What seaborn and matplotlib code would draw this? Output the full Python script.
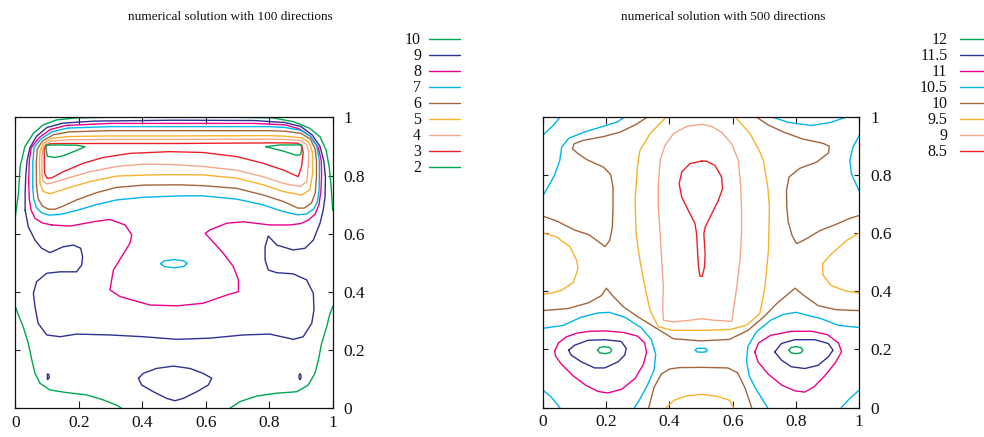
import matplotlib
matplotlib.use("Agg")
import matplotlib.pyplot as plt
from matplotlib.lines import Line2D
import seaborn as sns
import pandas as pd

# ---------------- data ----------------
TITLE_LEFT = "numerical solution with 100 directions"
TITLE_RIGHT = "numerical solution with 500 directions"
TICKS = [0.0, 0.2, 0.4, 0.6, 0.8, 1.0]
TICK_LABELS = ["0", "0.2", "0.4", "0.6", "0.8", "1"]

LEVELS_LEFT = ["10", "9", "8", "7", "6", "5", "4", "3", "2"]
LEVELS_RIGHT = ["12", "11.5", "11", "10.5", "10", "9.5", "9", "8.5"]

# colour of each contour level (same order in both keys)
LEVEL_COLORS = ["#00a651", "#2e3192", "#ec008c", "#00b4ec", "#a3653d",
                "#f8b12c", "#f7a688", "#ec2028", "#00a651"]

# ---- left panel (100 directions): traced contour lines (x, y) ----
left_10_top = [(0.0, 0.66), (0.004, 0.69), (0.01, 0.739), (0.015, 0.83), (0.03, 0.899),
               (0.057, 0.945), (0.088, 0.974), (0.13, 0.991), (0.193, 0.998), (0.30, 1.0),
               (0.5, 1.0), (0.70, 1.0), (0.812, 0.998), (0.876, 0.985), (0.928, 0.962),
               (0.96, 0.933), (0.979, 0.888), (0.989, 0.83), (0.995, 0.762), (1.0, 0.68)]
left_10_bot_l = [(0.0, 0.35), (0.01, 0.32), (0.025, 0.28), (0.041, 0.223), (0.052, 0.166),
                 (0.062, 0.12), (0.078, 0.086), (0.109, 0.063), (0.162, 0.054), (0.225, 0.046),
                 (0.277, 0.029), (0.319, 0.011), (0.335, 0.0)]
left_10_bot_r = [(1.0, 0.35), (0.99, 0.32), (0.981, 0.28), (0.965, 0.223), (0.955, 0.166),
                 (0.944, 0.12), (0.923, 0.08), (0.887, 0.057), (0.824, 0.052), (0.76, 0.042),
                 (0.708, 0.023), (0.676, 0.0)]
left_9_loop = [(0.031, 0.681), (0.031, 0.739), (0.033, 0.80), (0.037, 0.85), (0.046, 0.895),
               (0.067, 0.935), (0.10, 0.965), (0.15, 0.98), (0.25, 0.987), (0.5, 0.99),
               (0.75, 0.989), (0.85, 0.982), (0.90, 0.968), (0.935, 0.94), (0.96, 0.90),
               (0.972, 0.85), (0.977, 0.796), (0.976, 0.727), (0.970, 0.681), (0.960, 0.636),
               (0.939, 0.578), (0.913, 0.550), (0.876, 0.544), (0.824, 0.561), (0.797, 0.592),
               (0.787, 0.555), (0.787, 0.510), (0.797, 0.475), (0.824, 0.466), (0.876, 0.462),
               (0.918, 0.441), (0.939, 0.395), (0.941, 0.338), (0.934, 0.292), (0.907, 0.246),
               (0.876, 0.237), (0.802, 0.255), (0.718, 0.252), (0.613, 0.241), (0.509, 0.237),
               (0.403, 0.246), (0.298, 0.252), (0.193, 0.255), (0.141, 0.246), (0.099, 0.252),
               (0.072, 0.292), (0.062, 0.349), (0.057, 0.395), (0.067, 0.435), (0.099, 0.464),
               (0.141, 0.469), (0.193, 0.469), (0.209, 0.492), (0.212, 0.521), (0.206, 0.550),
               (0.183, 0.561), (0.151, 0.555), (0.109, 0.535), (0.083, 0.550), (0.062, 0.578),
               (0.041, 0.624), (0.031, 0.681)]
left_9_oval = [(0.388, 0.103), (0.403, 0.120), (0.445, 0.137), (0.498, 0.145), (0.550, 0.137),
               (0.592, 0.120), (0.619, 0.103), (0.608, 0.080), (0.572, 0.057), (0.529, 0.034),
               (0.503, 0.026), (0.477, 0.034), (0.435, 0.057), (0.398, 0.080), (0.388, 0.103)]
left_9_dot_l = [(0.101, 0.100), (0.101, 0.118), (0.105, 0.117), (0.107, 0.109),
                (0.105, 0.101), (0.101, 0.100)]
left_9_dot_r = [(0.897, 0.099), (0.894, 0.104), (0.894, 0.114), (0.897, 0.119),
                (0.900, 0.114), (0.900, 0.104), (0.897, 0.099)]
left_8_loop = [(0.115, 0.630), (0.085, 0.637), (0.063, 0.652), (0.05, 0.68), (0.044, 0.72),
               (0.042, 0.78), (0.044, 0.85), (0.05, 0.895), (0.075, 0.93), (0.11, 0.958),
               (0.16, 0.972), (0.3, 0.979), (0.5, 0.979), (0.75, 0.979), (0.85, 0.974),
               (0.895, 0.96), (0.93, 0.935), (0.955, 0.895), (0.964, 0.85), (0.965, 0.80),
               (0.963, 0.75), (0.957, 0.70), (0.945, 0.668), (0.925, 0.648), (0.90, 0.635),
               (0.865, 0.630), (0.802, 0.630), (0.718, 0.641), (0.666, 0.636), (0.613, 0.613),
               (0.598, 0.601), (0.613, 0.584), (0.655, 0.533), (0.687, 0.487), (0.703, 0.441),
               (0.703, 0.401), (0.666, 0.389), (0.592, 0.361), (0.509, 0.352), (0.424, 0.355),
               (0.330, 0.384), (0.298, 0.407), (0.309, 0.475), (0.335, 0.521), (0.361, 0.567),
               (0.367, 0.596), (0.346, 0.630), (0.298, 0.649), (0.246, 0.641), (0.172, 0.626),
               (0.115, 0.630)]
left_7_band = [(0.055, 0.76), (0.055, 0.843), (0.059, 0.895), (0.08, 0.925), (0.115, 0.950),
               (0.165, 0.963), (0.3, 0.968), (0.5, 0.968), (0.80, 0.968), (0.85, 0.965),
               (0.90, 0.955), (0.93, 0.935), (0.95, 0.90), (0.958, 0.85), (0.958, 0.80),
               (0.957, 0.75), (0.952, 0.71), (0.94, 0.685), (0.918, 0.668), (0.89, 0.665),
               (0.844, 0.676), (0.781, 0.699), (0.697, 0.719), (0.592, 0.730), (0.518, 0.730),
               (0.403, 0.725), (0.319, 0.716), (0.256, 0.70), (0.193, 0.68), (0.141, 0.666),
               (0.105, 0.664), (0.083, 0.672), (0.066, 0.69), (0.058, 0.72), (0.055, 0.76)]
left_7_island = [(0.458, 0.497), (0.47, 0.507), (0.50, 0.511), (0.53, 0.507), (0.542, 0.498),
                 (0.53, 0.487), (0.50, 0.483), (0.47, 0.487), (0.458, 0.497)]
left_6_band = [(0.067, 0.762), (0.066, 0.843), (0.069, 0.89), (0.085, 0.918), (0.12, 0.940),
               (0.17, 0.950), (0.3, 0.954), (0.5, 0.954), (0.80, 0.954), (0.85, 0.952),
               (0.90, 0.945), (0.93, 0.925), (0.945, 0.89), (0.949, 0.85), (0.949, 0.796),
               (0.945, 0.74), (0.933, 0.705), (0.91, 0.688), (0.89, 0.688), (0.844, 0.711),
               (0.781, 0.733), (0.697, 0.756), (0.592, 0.765), (0.518, 0.768), (0.403, 0.767),
               (0.319, 0.759), (0.256, 0.741), (0.193, 0.716), (0.151, 0.695), (0.125, 0.684),
               (0.105, 0.684), (0.085, 0.695), (0.072, 0.72), (0.067, 0.762)]
left_5_band = [(0.078, 0.773), (0.076, 0.843), (0.078, 0.885), (0.088, 0.91), (0.115, 0.928),
               (0.17, 0.934), (0.3, 0.936), (0.5, 0.936), (0.80, 0.937), (0.85, 0.935),
               (0.90, 0.930), (0.925, 0.915), (0.936, 0.88), (0.937, 0.808), (0.928, 0.751),
               (0.902, 0.733), (0.844, 0.745), (0.781, 0.768), (0.697, 0.791), (0.592, 0.802),
               (0.5, 0.803), (0.424, 0.802), (0.319, 0.798), (0.235, 0.779), (0.162, 0.756),
               (0.109, 0.737), (0.088, 0.745), (0.078, 0.773)]
left_4_band = [(0.084, 0.80), (0.084, 0.86), (0.086, 0.89), (0.095, 0.908), (0.115, 0.918),
               (0.17, 0.923), (0.3, 0.924), (0.5, 0.924), (0.80, 0.925), (0.85, 0.924),
               (0.90, 0.920), (0.918, 0.905), (0.925, 0.88), (0.923, 0.831), (0.918, 0.779),
               (0.897, 0.762), (0.844, 0.773), (0.781, 0.796), (0.697, 0.818), (0.592, 0.831),
               (0.487, 0.838), (0.403, 0.839), (0.319, 0.831), (0.235, 0.813), (0.162, 0.790),
               (0.120, 0.776), (0.099, 0.771), (0.087, 0.782), (0.084, 0.80)]
left_3_band = [(0.092, 0.808), (0.091, 0.888), (0.096, 0.903), (0.11, 0.909), (0.141, 0.910),
               (0.3, 0.910), (0.5, 0.910), (0.80, 0.912), (0.85, 0.912), (0.89, 0.911),
               (0.903, 0.902), (0.907, 0.88), (0.902, 0.831), (0.891, 0.796), (0.844, 0.819),
               (0.781, 0.842), (0.697, 0.865), (0.592, 0.879), (0.487, 0.882), (0.361, 0.876),
               (0.277, 0.862), (0.214, 0.842), (0.151, 0.813), (0.115, 0.792), (0.101, 0.790),
               (0.092, 0.808)]
left_2_island_l = [(0.097, 0.904), (0.13, 0.905), (0.193, 0.904), (0.22, 0.899), (0.193, 0.886),
                   (0.151, 0.868), (0.125, 0.862), (0.101, 0.866), (0.097, 0.888), (0.097, 0.904)]
left_2_island_r = [(0.789, 0.899), (0.834, 0.905), (0.902, 0.905), (0.902, 0.888),
                   (0.899, 0.872), (0.886, 0.869), (0.844, 0.884), (0.789, 0.899)]

# ---- right panel (500 directions): traced contour lines (x, y) ----
right_12_l = [(0.174, 0.197), (0.18, 0.206), (0.196, 0.209), (0.212, 0.206), (0.218, 0.197),
              (0.212, 0.188), (0.196, 0.185), (0.18, 0.188), (0.174, 0.197)]
right_12_r = [(0.778, 0.197), (0.784, 0.206), (0.80, 0.209), (0.816, 0.206), (0.822, 0.197),
              (0.816, 0.188), (0.80, 0.185), (0.784, 0.188), (0.778, 0.197)]
right_115_l = [(0.082, 0.197), (0.101, 0.214), (0.143, 0.231), (0.196, 0.233), (0.248, 0.227),
               (0.264, 0.203), (0.259, 0.180), (0.238, 0.157), (0.196, 0.136), (0.164, 0.136),
               (0.122, 0.157), (0.090, 0.180), (0.082, 0.197)]
right_115_r = [(0.733, 0.191), (0.754, 0.220), (0.796, 0.233), (0.859, 0.233), (0.902, 0.220),
               (0.917, 0.197), (0.902, 0.174), (0.870, 0.145), (0.828, 0.134), (0.785, 0.140),
               (0.754, 0.163), (0.733, 0.191)]
right_11_l = [(0.038, 0.195), (0.05, 0.222), (0.075, 0.243), (0.11, 0.256), (0.15, 0.262),
              (0.2, 0.263), (0.255, 0.258), (0.30, 0.245), (0.322, 0.222), (0.328, 0.19),
              (0.318, 0.148), (0.292, 0.100), (0.25, 0.063), (0.206, 0.05), (0.175, 0.055),
              (0.135, 0.077), (0.095, 0.11), (0.058, 0.15), (0.04, 0.178), (0.038, 0.195)]
right_11_r = [(0.670, 0.191), (0.682, 0.222), (0.72, 0.248), (0.786, 0.262), (0.85, 0.262),
              (0.90, 0.25), (0.934, 0.222), (0.944, 0.192), (0.925, 0.155), (0.89, 0.108),
              (0.858, 0.072), (0.828, 0.053), (0.797, 0.057), (0.755, 0.077), (0.712, 0.115),
              (0.68, 0.157), (0.670, 0.191)]
right_105_tl = [(0.0, 0.935), (0.033, 0.969), (0.057, 1.0)]
right_105_left = [(0.0, 0.726), (0.036, 0.795), (0.054, 0.849), (0.06, 0.895), (0.082, 0.925),
                  (0.13, 0.946), (0.19, 0.966), (0.236, 0.981), (0.26, 1.0)]
right_105_tr = [(0.72, 1.0), (0.775, 0.98), (0.848, 0.969), (0.911, 0.98), (0.964, 1.0)]
right_105_right = [(1.0, 0.935), (0.98, 0.895), (0.97, 0.849), (0.975, 0.803), (1.0, 0.743)]
right_105_low_l = [(0.0, 0.272), (0.065, 0.282), (0.12, 0.31), (0.175, 0.325), (0.21, 0.327),
                   (0.26, 0.31), (0.31, 0.275), (0.343, 0.234), (0.357, 0.183), (0.352, 0.13),
                   (0.33, 0.075), (0.305, 0.025), (0.29, 0.0)]
right_105_low_r = [(1.0, 0.275), (0.935, 0.282), (0.88, 0.305), (0.80, 0.327), (0.76, 0.32),
                   (0.72, 0.30), (0.675, 0.26), (0.648, 0.21), (0.644, 0.16), (0.652, 0.11),
                   (0.67, 0.07), (0.69, 0.035), (0.71, 0.0)]
right_105_bl = [(0.0, 0.06), (0.027, 0.036), (0.054, 0.0)]
right_105_br = [(1.0, 0.06), (0.97, 0.031), (0.943, 0.0)]
right_105_dot = [(0.482, 0.197), (0.487, 0.203), (0.501, 0.204), (0.515, 0.203), (0.52, 0.197),
                 (0.515, 0.191), (0.501, 0.190), (0.487, 0.191), (0.482, 0.197)]
right_10_ul = [(0.334, 1.0), (0.295, 0.973), (0.244, 0.946), (0.192, 0.931), (0.128, 0.918),
               (0.099, 0.906), (0.094, 0.889), (0.112, 0.872), (0.139, 0.852), (0.192, 0.826),
               (0.215, 0.800), (0.222, 0.757), (0.222, 0.689), (0.22, 0.62), (0.212, 0.575),
               (0.197, 0.553), (0.171, 0.574), (0.145, 0.594), (0.100, 0.610), (0.046, 0.640),
               (0.0, 0.658)]
right_10_ur = [(0.672, 1.0), (0.712, 0.971), (0.762, 0.946), (0.82, 0.923), (0.885, 0.908),
               (0.905, 0.898), (0.903, 0.875), (0.865, 0.843), (0.812, 0.822), (0.778, 0.792),
               (0.770, 0.746), (0.771, 0.690), (0.775, 0.640), (0.788, 0.590), (0.802, 0.563),
               (0.83, 0.578), (0.876, 0.608), (0.928, 0.630), (0.97, 0.650), (1.0, 0.660)]
right_10_mid = [(0.0, 0.333), (0.08, 0.34), (0.145, 0.36), (0.186, 0.385), (0.201, 0.41),
                (0.22, 0.385), (0.255, 0.346), (0.300, 0.312), (0.355, 0.275), (0.413, 0.236),
                (0.502, 0.229), (0.59, 0.234), (0.648, 0.265), (0.698, 0.311), (0.740, 0.358),
                (0.797, 0.41), (0.825, 0.385), (0.87, 0.35), (0.928, 0.336), (1.0, 0.333)]
right_10_bot = [(0.335, 0.0), (0.352, 0.07), (0.375, 0.115), (0.40, 0.132), (0.43, 0.137),
                (0.502, 0.138), (0.585, 0.136), (0.615, 0.12), (0.638, 0.07), (0.66, 0.0)]
right_95_mid = [(0.392, 1.0), (0.339, 0.941), (0.307, 0.883), (0.299, 0.826), (0.292, 0.712),
                (0.295, 0.597), (0.307, 0.506), (0.323, 0.414), (0.339, 0.334), (0.365, 0.277),
                (0.413, 0.265), (0.502, 0.265), (0.592, 0.268), (0.644, 0.283), (0.686, 0.323),
                (0.702, 0.414), (0.713, 0.540), (0.716, 0.689), (0.711, 0.757), (0.697, 0.849),
                (0.684, 0.883), (0.655, 0.941), (0.607, 1.0)]
right_95_bot = [(0.39, 0.0), (0.415, 0.025), (0.455, 0.040), (0.502, 0.045), (0.549, 0.039),
                (0.59, 0.025), (0.603, 0.0)]
right_95_left = [(0.0, 0.600), (0.044, 0.586), (0.086, 0.552), (0.107, 0.506), (0.112, 0.478),
                 (0.097, 0.430), (0.06, 0.403), (0.03, 0.394), (0.0, 0.389)]
right_95_right = [(1.0, 0.600), (0.96, 0.574), (0.913, 0.529), (0.884, 0.494), (0.885, 0.455),
                  (0.91, 0.42), (0.955, 0.401), (1.0, 0.393)]
right_9_loop = [(0.502, 0.973), (0.455, 0.966), (0.413, 0.941), (0.386, 0.900), (0.371, 0.849),
                (0.365, 0.769), (0.365, 0.689), (0.371, 0.597), (0.376, 0.506), (0.381, 0.414),
                (0.379, 0.346), (0.381, 0.300), (0.413, 0.294), (0.465, 0.300), (0.502, 0.305),
                (0.539, 0.300), (0.597, 0.296), (0.604, 0.346), (0.613, 0.414), (0.623, 0.506),
                (0.628, 0.597), (0.628, 0.689), (0.625, 0.769), (0.618, 0.849), (0.597, 0.906),
                (0.565, 0.946), (0.534, 0.966), (0.502, 0.973)]
right_85_drop = [(0.502, 0.847), (0.465, 0.838), (0.439, 0.809), (0.431, 0.769), (0.439, 0.723),
                 (0.460, 0.677), (0.481, 0.632), (0.486, 0.597), (0.489, 0.540), (0.492, 0.483),
                 (0.497, 0.451), (0.504, 0.451), (0.511, 0.483), (0.513, 0.529), (0.509, 0.597),
                 (0.513, 0.620), (0.534, 0.666), (0.555, 0.712), (0.568, 0.752), (0.565, 0.792),
                 (0.544, 0.832), (0.518, 0.846), (0.502, 0.847)]

# level index (into LEVEL_COLORS) for every traced line
LEFT_LINES = [(0, left_10_top), (0, left_10_bot_l), (0, left_10_bot_r),
              (1, left_9_loop), (1, left_9_oval), (1, left_9_dot_l), (1, left_9_dot_r),
              (2, left_8_loop), (3, left_7_band), (3, left_7_island), (4, left_6_band),
              (5, left_5_band), (6, left_4_band), (7, left_3_band),
              (8, left_2_island_l), (8, left_2_island_r)]
RIGHT_LINES = [(0, right_12_l), (0, right_12_r), (1, right_115_l), (1, right_115_r),
               (2, right_11_l), (2, right_11_r),
               (3, right_105_tl), (3, right_105_left), (3, right_105_tr), (3, right_105_right),
               (3, right_105_low_l), (3, right_105_low_r), (3, right_105_bl), (3, right_105_br),
               (3, right_105_dot),
               (4, right_10_ul), (4, right_10_ur), (4, right_10_mid), (4, right_10_bot),
               (5, right_95_mid), (5, right_95_bot), (5, right_95_left), (5, right_95_right),
               (6, right_9_loop), (7, right_85_drop)]

# ---------------- drawing ----------------
sns.set_theme(style="white")
plt.rcParams["font.family"] = ["Liberation Serif", "DejaVu Serif"]
plt.rcParams["axes.linewidth"] = 0.8

W, H = 984, 437
fig = plt.figure(figsize=(W / 100, H / 100), dpi=100)
fig.patch.set_facecolor("white")

def px_box(x0, y0, x1, y1):
    return [x0 / W, 1 - y1 / H, (x1 - x0) / W, (y1 - y0) / H]

axL = fig.add_axes(px_box(15.3, 117.3, 332.7, 408.3))
axR = fig.add_axes(px_box(542.7, 116.5, 859.3, 407.5))

def draw_panel(ax, lines):
    for lvl, pts in lines:
        df = pd.DataFrame(pts, columns=["x", "y"])
        sns.lineplot(data=df, x="x", y="y", sort=False, estimator=None,
                     color=LEVEL_COLORS[lvl], lw=1.0, ax=ax, legend=False)
    ax.set_xlim(0, 1)
    ax.set_ylim(0, 1)
    ax.set_xlabel("")
    ax.set_ylabel("")
    ax.set_xticks(TICKS)
    ax.set_xticklabels(TICK_LABELS)
    ax.set_yticks(TICKS)
    ax.set_yticklabels(TICK_LABELS)
    ax.tick_params(axis="both", which="both", direction="in", top=True, bottom=True,
                   left=True, right=True, labelleft=False, labelright=True,
                   labelbottom=True, colors="#222222", labelcolor="#111111",
                   labelsize=12.5, width=0.8)
    ax.tick_params(axis="x", length=5, pad=5)
    ax.tick_params(axis="y", length=3.5, pad=8)
    for s in ax.spines.values():
        s.set_visible(True)
        s.set_color("#111111")
        s.set_linewidth(0.9)
    ax.set_facecolor("white")

draw_panel(axL, LEFT_LINES)
draw_panel(axR, RIGHT_LINES)

fig.text(230 / W, 1 - 17 / H, TITLE_LEFT, ha="center", va="center", fontsize=9.5, color="#111111")
fig.text(723 / W, 1 - 17 / H, TITLE_RIGHT, ha="center", va="center", fontsize=9.5, color="#111111")

# keys (gnuplot style: label then line sample)
def draw_key(labels, x_text, x0, x1):
    for i, lab in enumerate(labels):
        y = 39 + 16 * i
        fig.text(x_text / W, 1 - (y + 1) / H, lab, ha="right", va="center",
                 fontsize=11.5, color="#111111")
        fig.add_artist(Line2D([x0 / W, x1 / W], [1 - y / H, 1 - y / H],
                              color=LEVEL_COLORS[i], lw=1.0))

draw_key(LEVELS_LEFT, 421, 429, 460)
draw_key(LEVELS_RIGHT, 947.5, 959.5, 990)

fig.savefig("out.png", dpi=100, facecolor="white")
